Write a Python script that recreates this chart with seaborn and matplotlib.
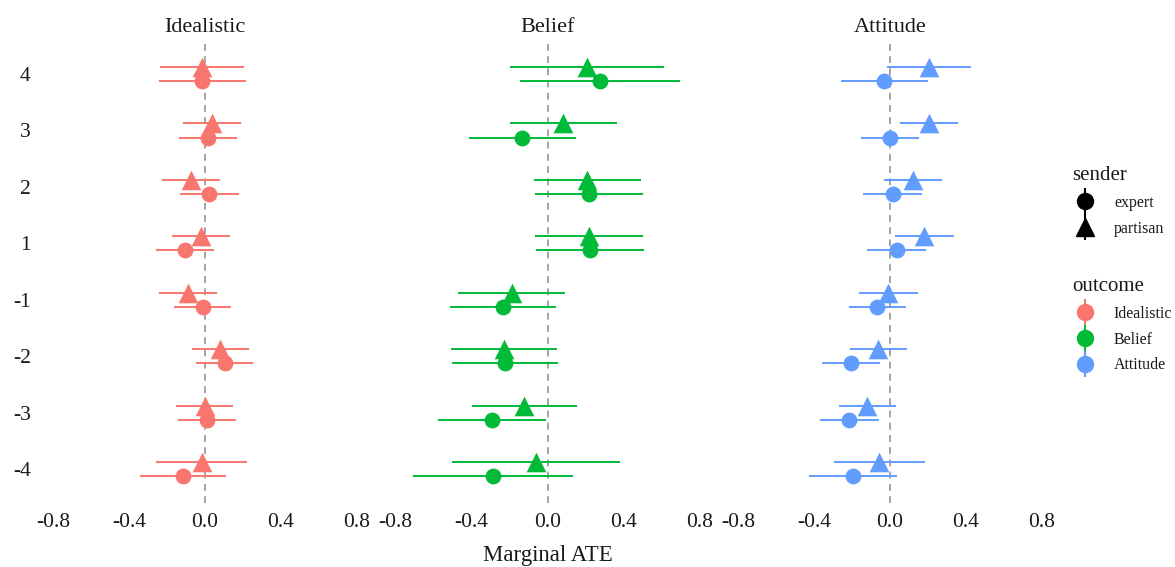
import numpy as np
import pandas as pd
import matplotlib
matplotlib.use("Agg")
import matplotlib.pyplot as plt
from matplotlib.lines import Line2D
import seaborn as sns

# categories (top to bottom) and facets
levels = ["4", "3", "2", "1", "-1", "-2", "-3", "-4"]
outcomes = ["Idealistic", "Belief", "Attitude"]
senders = ["expert", "partisan"]
palette = {"Idealistic": "#F8766D", "Belief": "#00BA38", "Attitude": "#619CFF"}

# Idealistic
ideal_exp_est = [-0.016, 0.016, 0.023, -0.104, -0.012, 0.105, 0.011, -0.118]
ideal_exp_lo = [-0.242, -0.135, -0.130, -0.256, -0.165, -0.047, -0.142, -0.344]
ideal_exp_hi = [0.214, 0.170, 0.177, 0.049, 0.139, 0.254, 0.165, 0.112]
ideal_par_est = [-0.016, 0.039, -0.074, -0.021, -0.089, 0.077, -0.002, -0.016]
ideal_par_lo = [-0.235, -0.116, -0.226, -0.175, -0.242, -0.068, -0.151, -0.256]
ideal_par_hi = [0.205, 0.189, 0.081, 0.133, 0.061, 0.233, 0.149, 0.223]

# Belief
belief_exp_est = [0.276, -0.133, 0.220, 0.223, -0.234, -0.223, -0.291, -0.288]
belief_exp_lo = [-0.145, -0.415, -0.065, -0.059, -0.515, -0.504, -0.576, -0.710]
belief_exp_hi = [0.696, 0.152, 0.504, 0.506, 0.047, 0.054, -0.009, 0.133]
belief_par_est = [0.209, 0.082, 0.209, 0.216, -0.187, -0.229, -0.124, -0.061]
belief_par_lo = [-0.195, -0.199, -0.073, -0.065, -0.469, -0.510, -0.398, -0.503]
belief_par_hi = [0.613, 0.365, 0.492, 0.501, 0.094, 0.049, 0.154, 0.382]

# Attitude
att_exp_est = [-0.031, -0.002, 0.014, 0.035, -0.066, -0.206, -0.215, -0.197]
att_exp_lo = [-0.260, -0.155, -0.140, -0.119, -0.218, -0.356, -0.370, -0.428]
att_exp_hi = [0.199, 0.154, 0.171, 0.189, 0.086, -0.052, -0.059, 0.035]
att_par_est = [0.206, 0.204, 0.122, 0.180, -0.009, -0.063, -0.122, -0.059]
att_par_lo = [-0.014, 0.052, -0.031, 0.028, -0.162, -0.213, -0.271, -0.297]
att_par_hi = [0.426, 0.360, 0.276, 0.335, 0.147, 0.092, 0.030, 0.182]

xticks = [-0.8, -0.4, 0.0, 0.4, 0.8]

series = {
    ("Idealistic", "expert"): (ideal_exp_est, ideal_exp_lo, ideal_exp_hi),
    ("Idealistic", "partisan"): (ideal_par_est, ideal_par_lo, ideal_par_hi),
    ("Belief", "expert"): (belief_exp_est, belief_exp_lo, belief_exp_hi),
    ("Belief", "partisan"): (belief_par_est, belief_par_lo, belief_par_hi),
    ("Attitude", "expert"): (att_exp_est, att_exp_lo, att_exp_hi),
    ("Attitude", "partisan"): (att_par_est, att_par_lo, att_par_hi),
}

rows = []
for (outc, snd), (est, lo, hi) in series.items():
    for lev, e, l, h in zip(levels, est, lo, hi):
        rows.append({"outcome": outc, "sender": snd, "level": lev,
                     "ate": e, "lo": l, "hi": h})
df = pd.DataFrame(rows)
# dodge: partisan above, expert below
dodge = {"partisan": -0.125, "expert": 0.125}
df["ypos"] = df["level"].map({lv: i for i, lv in enumerate(levels)}) + df["sender"].map(dodge)

sns.set_style("white")
plt.rcParams["font.family"] = ["Liberation Serif", "DejaVu Serif"]
plt.rcParams["text.color"] = "#1a1a1a"

W, H = 1175, 567
fig = plt.figure(figsize=(W / 100, H / 100), dpi=100)

zeros = [205, 547.5, 890]
half = 0.88 * 190
top_px, bot_px = 40.2, 502.9
markers = {"expert": "o", "partisan": "^"}
msize = {"expert": 130, "partisan": 200}

for k, outc in enumerate(outcomes):
    left = (zeros[k] - half) / W
    ax = fig.add_axes([left, 1 - bot_px / H, 2 * half / W, (bot_px - top_px) / H])
    sub = df[df["outcome"] == outc]
    ax.axvline(0, color="#8c8c8c", ls=(0, (4.5, 3.5)), lw=1.1, zorder=1)
    ax.hlines(sub["ypos"], sub["lo"], sub["hi"], color=palette[outc], lw=1.4, zorder=2)
    for snd in senders:
        s = sub[sub["sender"] == snd]
        sns.scatterplot(data=s, x="ate", y="ypos", color=palette[outc],
                        marker=markers[snd], s=msize[snd], linewidth=0,
                        legend=False, ax=ax, zorder=3)
    ax.set_xlim(-0.88, 0.88)
    ax.set_ylim(len(levels) - 0.4, -0.6)
    ax.set_xticks(xticks)
    ax.set_xticklabels([f"{t:.1f}" for t in xticks], fontsize=15.5, color="#1a1a1a")
    ax.set_yticks(range(len(levels)))
    if k == 0:
        ax.set_yticklabels(levels, fontsize=15.5, color="#1a1a1a")
    else:
        ax.set_yticklabels([])
    ax.tick_params(axis="y", length=0, pad=5)
    ax.tick_params(axis="x", length=0, pad=7)
    ax.set_xlabel("")
    ax.set_ylabel("")
    ax.set_title(outc, fontsize=16, pad=5.8, color="#1a1a1a")
    sns.despine(ax=ax, left=True, bottom=True)

fig.text(547.5 / W, 1 - 556 / H, "Marginal ATE", ha="center", va="center", fontsize=16.5)

# legends
def key(marker, color, ms):
    bar = Line2D([], [], color=color, marker="|", markersize=19, markeredgewidth=1.5, ls="none")
    pt = Line2D([], [], color=color, marker=marker, markersize=ms, ls="none")
    return (bar, pt)

snd_handles = [key("o", "black", 11.5), key("^", "black", 13.5)]
fig.legend(snd_handles, senders, title="sender", loc="upper left",
           bbox_to_anchor=(1058 / W, 1 - 152 / H), frameon=False,
           fontsize=11.5, title_fontsize=15, alignment="left",
           handletextpad=1.0, labelspacing=0.6, handlelength=1.6)
out_handles = [key("o", palette[o], 11.5) for o in outcomes]
fig.legend(out_handles, outcomes, title="outcome", loc="upper left",
           bbox_to_anchor=(1058 / W, 1 - 263 / H), frameon=False,
           fontsize=11.5, title_fontsize=15, alignment="left",
           handletextpad=1.0, labelspacing=0.6, handlelength=1.6)

fig.savefig("out.png", dpi=100)
